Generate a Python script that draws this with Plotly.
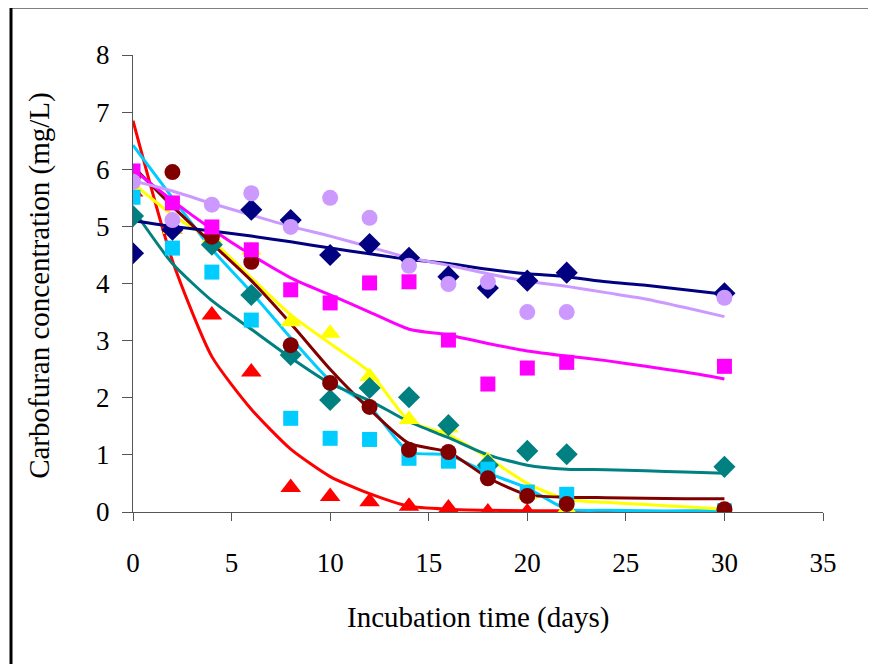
import plotly.graph_objects as go

# Measured data (days)
days = [0, 2, 4, 6, 8, 10, 12, 14, 16, 18, 20, 22, 30]
navy_obs = [4.53, 4.94, None, 5.29, 5.11, 4.50, 4.69, 4.45, 4.12, 3.92, 4.05, 4.19, 3.83]
lavender_obs = [5.78, 5.11, 5.38, 5.58, 4.99, 5.50, 5.15, 4.31, 3.99, 4.03, 3.50, 3.50, 3.75]
magenta_obs = [5.97, 5.41, 4.99, 4.59, 3.89, 3.66, 4.01, 4.03, 3.01, 2.24, 2.52, 2.62, 2.55]
yellow_obs = [5.70, 4.95, 4.80, 4.58, 3.33, 3.13, 2.37, 1.62, 1.47, 0.90, 0.30, 0.05, 0.02]
cyan_obs = [5.51, 4.62, 4.20, 3.36, 1.64, 1.29, 1.27, 0.94, 0.89, 0.75, 0.35, 0.31, 0.02]
maroon_obs = [5.88, 5.95, 4.82, 4.38, 2.92, 2.26, 1.84, 1.09, 1.05, 0.59, 0.28, 0.14, 0.05]
teal_obs = [5.18, None, 4.68, 3.80, 2.75, 1.96, 2.17, 2.01, 1.52, 0.82, 1.07, 1.01, 0.79]
red_obs = [5.60, 4.95, 3.45, 2.45, 0.43, 0.27, 0.18, 0.10, 0.07, 0.00, 0.00, 0.00, 0.00]

# Fitted model curves
fit_days = [0, 2, 4, 6, 8, 10, 12, 14, 16, 18, 20, 22, 24, 26, 28, 30]
navy_fit = [5.10, 5.00, 4.92, 4.83, 4.73, 4.62, 4.52, 4.42, 4.35, 4.25, 4.17, 4.12, 4.03, 3.97, 3.89, 3.81]
lavender_fit = [5.80, 5.62, 5.40, 5.20, 5.00, 4.83, 4.64, 4.45, 4.32, 4.17, 4.04, 3.95, 3.84, 3.73, 3.58, 3.42]
magenta_fit = [6.00, 5.45, 4.95, 4.50, 4.10, 3.80, 3.50, 3.20, 3.10, 2.95, 2.82, 2.73, 2.65, 2.55, 2.45, 2.33]
yellow_fit = [5.75, 5.20, 4.75, 4.10, 3.45, 2.95, 2.45, 1.60, 1.35, 0.95, 0.50, 0.22, 0.17, 0.13, 0.09, 0.05]
cyan_fit = [6.42, 5.50, 4.60, 3.85, 3.05, 2.30, 1.85, 1.05, 1.00, 0.68, 0.42, 0.05, 0.03, 0.02, 0.02, 0.02]
maroon_fit = [6.05, 5.35, 4.70, 4.05, 3.30, 2.50, 1.80, 1.20, 1.05, 0.60, 0.30, 0.26, 0.25, 0.24, 0.23, 0.23]
teal_fit = [5.30, 4.35, 3.70, 3.20, 2.70, 2.25, 1.95, 1.58, 1.30, 1.00, 0.82, 0.75, 0.74, 0.72, 0.70, 0.68]
red_fit = [6.85, 4.40, 2.72, 1.80, 1.10, 0.62, 0.32, 0.10, 0.05, 0.03, 0.02, 0.02, 0.01, 0.01, 0.01, 0.01]

x_ticks = [0, 5, 10, 15, 20, 25, 30, 35]
y_ticks = [0, 1, 2, 3, 4, 5, 6, 7, 8]

C_NAVY = "#000080"
C_LAV = "#CC99FF"
C_MAG = "#FF00FF"
C_YEL = "#FFFF00"
C_CYAN = "#00CCFF"
C_MAR = "#800000"
C_TEAL = "#008080"
C_RED = "#FF0000"

fig = go.Figure()

lines = [
    (red_fit, C_RED), (cyan_fit, C_CYAN), (yellow_fit, C_YEL), (maroon_fit, C_MAR),
    (teal_fit, C_TEAL), (magenta_fit, C_MAG), (navy_fit, C_NAVY), (lavender_fit, C_LAV),
]
for ys, col in lines:
    fig.add_trace(go.Scatter(x=fit_days, y=ys, mode="lines",
                             line=dict(color=col, width=3, shape="spline", smoothing=0.6),
                             showlegend=False, hoverinfo="skip"))

markers = [
    (red_obs, C_RED, "triangle-up", 18),
    (yellow_obs, C_YEL, "triangle-up", 18),
    (teal_obs, C_TEAL, "diamond", 17),
    (cyan_obs, C_CYAN, "square", 15),
    (maroon_obs, C_MAR, "circle", 16),
    (navy_obs, C_NAVY, "diamond", 17),
    (magenta_obs, C_MAG, "square", 15),
    (lavender_obs, C_LAV, "circle", 16),
]
for ys, col, sym, sz in markers:
    fig.add_trace(go.Scatter(x=days, y=ys, mode="markers",
                             marker=dict(color=col, symbol=sym, size=sz, line=dict(width=0)),
                             showlegend=False))

font_family = "Times New Roman, Liberation Serif, serif"

fig.update_layout(
    width=876, height=664,
    margin=dict(l=125, r=61, t=47, b=160, autoexpand=False),
    paper_bgcolor="white", plot_bgcolor="white",
    font=dict(family=font_family, size=27, color="black"),
    xaxis=dict(range=[0, 35], tickvals=x_ticks, ticks="outside", ticklen=8,
               tickcolor="#555555", showline=True, linecolor="#555555", linewidth=1,
               showgrid=False, zeroline=False, ticklabelstandoff=19,
               tickfont=dict(family=font_family, size=27)),
    yaxis=dict(range=[0, 8], tickvals=y_ticks, ticks="outside", ticklen=10,
               tickcolor="#555555", showline=True, linecolor="#555555", linewidth=1,
               showgrid=False, zeroline=False, ticklabelstandoff=7,
               tickfont=dict(family=font_family, size=27)),
    annotations=[
        dict(text="Incubation time (days)", xref="paper", yref="paper", x=0.5, y=-0.2298,
             showarrow=False, xanchor="center", yanchor="middle",
             font=dict(family=font_family, size=29)),
        dict(text="Carbofuran concentration (mg/L)", xref="paper", yref="paper",
             x=-0.1348, y=0.497, textangle=-90, showarrow=False,
             xanchor="center", yanchor="middle",
             font=dict(family=font_family, size=29)),
    ],
    shapes=[
        dict(type="line", xref="paper", yref="paper", x0=-0.1768, x1=1.2,
             y0=1.105, y1=1.105, line=dict(color="black", width=3)),
        dict(type="line", xref="paper", yref="paper", x0=-0.1768, x1=-0.1768,
             y0=-0.5, y1=1.105, line=dict(color="black", width=3)),
    ],
)

fig.write_html("out.html")
